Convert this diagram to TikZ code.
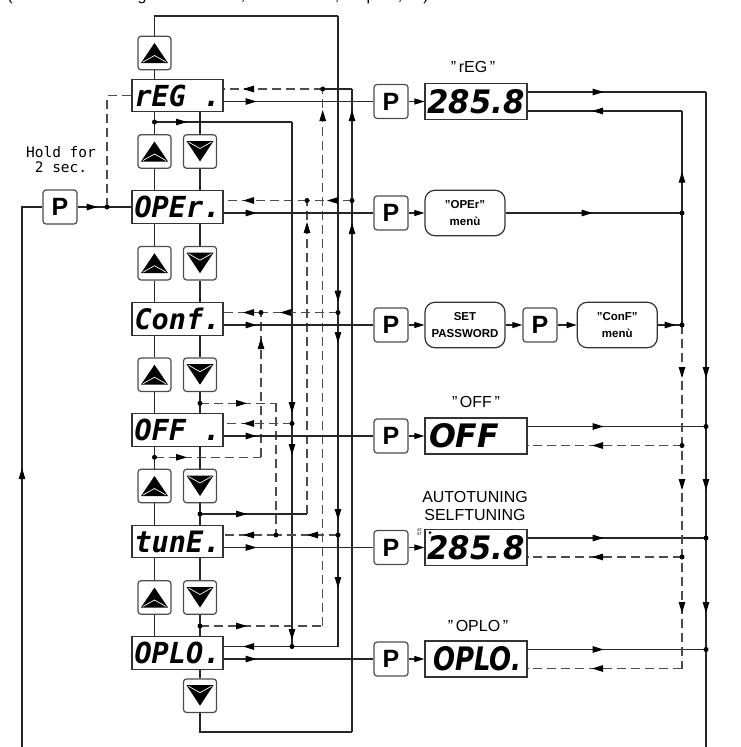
\documentclass[tikz,border=0pt]{standalone}
\usepackage{fontspec}
\setmainfont{Liberation Sans}
\newfontfamily\segfont{DejaVu Sans Mono}
\newfontfamily\segbold{DejaVu Sans}
\newfontfamily\holdfont{DejaVu Sans Mono}
\usetikzlibrary{arrows.meta,decorations.markings,calc}

\newcommand\segtxt[3]{\resizebox{#1pt}{#2pt}{\segfont\bfseries\itshape #3}}
\newcommand\rsegtxt[3]{\resizebox{#1pt}{#2pt}{\segbold\bfseries\itshape #3}}

\tikzset{
  ln/.style={line width=1.1pt, draw=black!85},
  dsh/.style={line width=1.1pt, draw=black!70, dash pattern=on 9pt off 5pt},
  ar/.style={postaction={decorate,decoration={markings,mark=at position #1 with {\arrow{Triangle[length=11pt,width=6.5pt,color=black]}}}}},
  endar/.style={-{Triangle[length=10pt,width=6pt,color=black]}},
  disp/.style={draw=black!80, line width=1.2pt, minimum width=91pt, minimum height=32.5pt, inner sep=0pt, fill=white},
  rdisp/.style={draw=black!80, line width=1.2pt, minimum width=102pt, minimum height=36pt, inner sep=0pt, fill=white},
  btn/.style={draw=black!70, line width=1.2pt, rounded corners=3pt, minimum width=33pt, minimum height=33.5pt, inner sep=0pt, fill=white},
  pbtn/.style={draw=black!70, line width=1.2pt, rounded corners=3pt, minimum width=34pt, minimum height=34pt, inner sep=0pt, fill=white, font=\bfseries\fontsize{25}{25}\selectfont},
  menu/.style={draw=black!80, line width=1.2pt, rounded corners=10pt, minimum width=80pt, minimum height=45.5pt, inner sep=0pt, align=center, fill=white, font=\bfseries\fontsize{11.5}{17}\selectfont},
  lbl/.style={font=\fontsize{16}{18}\selectfont, inner sep=0pt, align=center},
  frag/.style={font=\fontsize{16}{18}\selectfont, inner sep=0pt, anchor=base},
  dot/.style={circle, fill=black, inner sep=0pt, minimum size=5pt},
}

\newcommand\upbtn[3]{%
  \node[btn] (#1) at (#2,#3) {};
  \begin{scope}[shift={(#1.center)}]
    \fill (-13.5,10) -- (13.5,10) -- (0,-10) -- cycle;
    \draw[white,line width=0.7pt] (-11.5,9) -- (0,2.5) -- (11.5,9);
  \end{scope}}
\newcommand\dnbtn[3]{%
  \node[btn] (#1) at (#2,#3) {};
  \begin{scope}[shift={(#1.center)}]
    \fill (-13.5,-10.5) -- (13.5,-10.5) -- (0,10) -- cycle;
    \draw[white,line width=0.7pt] (-11.5,-9.5) -- (0,-3) -- (11.5,-9.5);
  \end{scope}}

\begin{document}
\begin{tikzpicture}[x=1pt,y=-1pt]
\useasboundingbox (0,0) rectangle (740,747);

% ---------- cut-off line of text at the top (as in the reference) ----------
\node[frag] (f1) at (10,0.8) {(};
\node[frag] (f2) at (142,0.8) {g};
\node[frag] (f3) at (243,0.8) {,};
\node[frag] (f4) at (337,0.8) {,};
\node[frag] (f5) at (371,0.8) {p};
\node[frag] (f6) at (400,0.8) {,};
\node[frag] (f7) at (426,0.8) {)};

% ---------- left displays ----------
\node[disp] (dR) at (177.5,95.5) {\segtxt{86}{21.5}{rEG .}};
\node[disp] (dO) at (177.5,207) {\segtxt{86}{21.5}{OPEr.}};
\node[disp] (dC) at (177.5,319) {\segtxt{86}{21.5}{Conf.}};
\node[disp] (dF) at (177.5,430) {\segtxt{86}{21.5}{OFF .}};
\node[disp] (dT) at (177.5,541.5) {\segtxt{86}{21.5}{tunE.}};
\node[disp] (dL) at (177.5,653) {\segtxt{86}{21.5}{OPLO.}};

% ---------- arrow buttons ----------
\upbtn{uTop}{154.5}{53}
\upbtn{u1}{154.5}{151.5}\dnbtn{b1}{200}{151.5}
\upbtn{u2}{154.5}{263.2}\dnbtn{b2}{200}{263.2}
\upbtn{u3}{154.5}{374.7}\dnbtn{b3}{200}{374.7}
\upbtn{u4}{154.5}{486}\dnbtn{b4}{200}{486}
\upbtn{u5}{154.5}{597.5}\dnbtn{b5}{200}{597.5}
\dnbtn{bBot}{200}{695.7}

% ---------- P buttons ----------
\node[pbtn] (PL) at (60,207) {P};
\node[pbtn] (PR) at (391,101.5) {P};
\node[pbtn] (PO) at (391,213) {P};
\node[pbtn] (PC) at (391,325) {P};
\node[pbtn] (PF) at (391,436) {P};
\node[pbtn] (PT) at (391,547.5) {P};
\node[pbtn] (PLo) at (391,659) {P};
\node[pbtn] (PC2) at (540,325) {P};

% ---------- right displays and menus ----------
\node[rdisp] (DR) at (476,101.5) {\rsegtxt{97}{24}{285.8}};
\node[rdisp] (DF) at (476,436) {\makebox[100pt][l]{\hspace{3pt}\rsegtxt{70}{24}{OFF}}};
\node[rdisp] (DT) at (476,547.5) {\rsegtxt{97}{24}{285.8}};
\node[rdisp] (DL) at (476,659) {\makebox[100pt][l]{\hspace{7pt}\rsegtxt{88}{24}{OPLO.}}};
\node[menu] (mO) at (465,213) {”OPEr”\\menù};
\node[menu] (mS) at (465,325) {SET\\PASSWORD};
\node[menu] (mCf) at (617.3,325) {”ConF”\\menù};

% ---------- labels ----------
\node[lbl] (lR) at (473,66.7) {”\,rEG\,”};
\node[lbl] (lF) at (476,401.7) {”\,OFF\,”};
\node[lbl] (lT) at (475,506) {AUTOTUNING\\SELFTUNING};
\node[lbl] (lL) at (478,626) {”\,OPLO\,”};
\node[inner sep=0pt, align=center, font=\holdfont\fontsize{14.5}{15.5}\selectfont] (hold) at (61,159.5) {Hold for\\2 sec.};
\node[inner sep=0pt, align=center, font=\fontsize{4}{4}\selectfont] (atst) at (419.5,532.5) {AT\\ST};
\node[dot, minimum size=3pt] (atdot) at (430,532.5) {};

% ---------- coordinates ----------
\coordinate (jR1) at (322.7,89);
\coordinate (jR2) at (352,89);
\coordinate (jO1) at (307,200.5);
\coordinate (jO2) at (352,200.5);
\coordinate (jC1) at (261,312.5);
\coordinate (jC2) at (338,312.5);
\coordinate (jF1) at (292,423.5);
\coordinate (jT1) at (276,535);
\coordinate (jT2) at (338,535);
\coordinate (jL1) at (292,646.5);
\coordinate (jL2) at (338,646.5);
\coordinate (tl) at (338,16);
\coordinate (bl) at (352,732);
\coordinate (c122) at (154.5,122);
\coordinate (k122) at (292,122);
\coordinate (c457) at (154.5,457.3);
\coordinate (k457) at (261,457.3);
\coordinate (c403) at (200,403.3);
\coordinate (k403) at (276,403.3);
\coordinate (c514) at (200,514);
\coordinate (k514) at (307,514);
\coordinate (c626) at (200,626);
\coordinate (k626) at (322.7,626);
\coordinate (j107) at (107,207);
\coordinate (lb) at (22,747);
\coordinate (lt) at (22,207);
\coordinate (r1) at (706,92);
\coordinate (rb) at (706,747);
\coordinate (rF) at (706,426.5);
\coordinate (rT) at (706,538);
\coordinate (rL) at (706,649.5);
\coordinate (m1) at (682,111);
\coordinate (jm1) at (682,213);
\coordinate (jm2) at (682,325);
\coordinate (mF) at (682,445.5);
\coordinate (mT) at (682,557);
\coordinate (mL) at (682,668.5);

% ---------- column links ----------
\draw[ln] (uTop.south) -- (uTop.south |- dR.north);
\foreach \a/\b in {dR/u1,dO/u2,dC/u3,dF/u4,dT/u5,dR/b1,dO/b2,dC/b3,dF/b4,dT/b5,dL/bBot}
  \draw[ln] (\b.north |- \a.south) -- (\b.north);
\foreach \a/\b in {u1/dO,u2/dC,u3/dF,u4/dT,u5/dL,b1/dO,b2/dC,b3/dF,b4/dT,b5/dL}
  \draw[ln] (\a.south) -- (\a.south |- \b.north);

% ---------- top loop ----------
\draw[ln] (uTop.north) |- (tl);
\draw[ln, ar=285.7pt] (tl) -- (jC2);
\draw[ln, ar=30.5pt, ar=207.5pt] (jC2) -- (jT2);
\draw[ln, ar=53pt] (jT2) -- (jL2);
\draw[ln, ar=95pt] (jL2) -- (dL.east |- jL2);

% ---------- bottom loop ----------
\draw[ln] (bBot.south) |- (bl);
\draw[ln, ar=509pt] (bl) -- (jO2);
\draw[ln, ar=90.5pt] (jO2) -- (jR2);
\draw[ln] (jR2) -- (jR1);
\draw[dsh, ar=79.7pt] (jR1) -- (dR.east |- jR1);

% ---------- OPEr entry ----------
\draw[dsh, ar=25pt] (jO2) -- (jO1);
\draw[dsh, ar=64pt] (jO1) -- (dO.east |- jO1);
\draw[ln, ar=47pt] (c514) -- (k514);
\draw[dsh, ar=292pt] (k514) -- (jO1);

% ---------- rEG skip ----------
\draw[dsh, ar=47pt] (c626) -- (k626);
\draw[dsh, ar=516pt] (k626) -- (jR1);

% ---------- x=292 ----------
\draw[ln, ar=32.5pt] (c122) -- (k122);
\draw[ln, ar=291pt] (k122) -- (jF1);
\draw[ln, ar=31.5pt, ar=216.5pt] (jF1) -- (jL1);
\draw[dsh, ar=49pt] (jF1) -- (dF.east |- jF1);

% ---------- Conf entry ----------
\draw[dsh, ar=58pt] (jC2) -- (jC1);
\draw[dsh, ar=18pt] (jC1) -- (dC.east |- jC1);
\draw[dsh, ar=32.5pt] (c457) -- (k457);
\draw[dsh, ar=119.3pt] (k457) -- (jC1);

% ---------- tunE entry ----------
\draw[dsh, ar=31pt] (jT2) -- (jT1);
\draw[dsh, ar=33pt] (jT1) -- (dT.east |- jT1);
\draw[dsh, ar=47pt] (c403) -- (k403);
\draw[dsh] (k403) -- (jT1);

% ---------- exits ----------
\foreach \d/\p in {dR/PR,dO/PO,dC/PC,dF/PF,dT/PT,dL/PLo}
  \draw[ln, ar=33pt] (\d.east |- \p.west) -- (\p.west);
\draw[ln, endar] (PR.east) -- (DR.west);
\draw[ln, endar] (PO.east) -- (mO.west);
\draw[ln, endar] (PC.east) -- (mS.west);
\draw[ln, endar] (mS.east) -- (PC2.west);
\draw[ln, endar] (PC2.east) -- (mCf.west);
\draw[ln, endar] (PF.east) -- (DF.west);
\draw[ln, endar] (PT.east) -- (DT.west);
\draw[ln, endar] (PLo.east) -- (DL.west);

% ---------- left P ----------
\draw[ln, ar=20pt] (PL.east) -- (j107);
\draw[ln] (j107) -- (dO.west);
\draw[dsh] (j107) |- (dR.west);
\draw[ln, ar=279pt] (lb) -- (lt) -- (PL.west);

% ---------- right side ----------
\draw[ln, ar=76pt] (DR.east |- r1) -- (r1);
\draw[ln, ar=286pt, ar=398pt, ar=521pt] (r1) -- (rb);
\draw[ln, ar=76pt] (DF.east |- rF) -- (rF);
\draw[ln, ar=76pt] (DT.east |- rT) -- (rT);
\draw[ln, ar=76pt] (DL.east |- rL) -- (rL);
\draw[ln, ar=153.3pt] (jm2) -- (m1);
\draw[ln, ar=90pt] (m1) -- (DR.east |- m1);
\draw[ln, ar=87pt] (mO.east) -- (jm1);
\draw[ln, ar=17.7pt] (mCf.east) -- (jm2);
\draw[dsh, ar=53pt, ar=165pt, ar=288pt] (jm2) -- (mL);
\draw[dsh, ar=90pt] (mL) -- (DL.east |- mL);
\draw[dsh, ar=90pt] (mF) -- (DF.east |- mF);
\draw[dsh, ar=90pt] (mT) -- (DT.east |- mT);

% ---------- dots ----------
\foreach \c in {jR1,jO1,jO2,jC1,jC2,jF1,jT1,jT2,jL1,c122,c457,c403,c514,c626,j107,rF,rT,rL,jm1,jm2,mF,mT}
  \node[dot] (dot-\c) at (\c) {};
\end{tikzpicture}
\end{document}
